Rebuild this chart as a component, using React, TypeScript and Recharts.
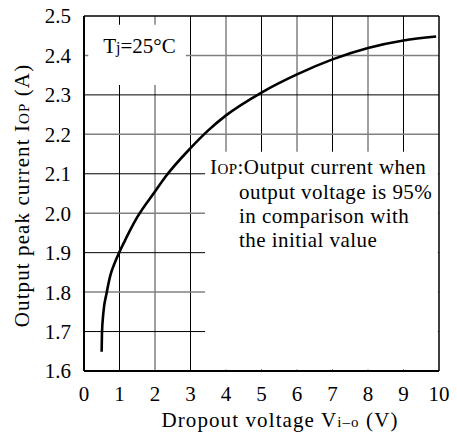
import { LineChart, Line, XAxis, YAxis, ReferenceLine, ReferenceArea } from "recharts";

const FONT = "'Liberation Serif', 'Times New Roman', serif";

const X_TICKS = [0, 1, 2, 3, 4, 5, 6, 7, 8, 9, 10];
const Y_TICKS = [1.6, 1.7, 1.8, 1.9, 2.0, 2.1, 2.2, 2.3, 2.4, 2.5];

// curve
const VOLTAGE = [0.497, 0.506, 0.544, 0.638, 0.75, 0.87, 1.0, 1.15, 1.3, 1.5, 2.0, 2.3, 3.0, 3.5, 4, 5, 6, 7, 8, 9, 9.92];
const CURRENT = [1.649, 1.695, 1.746, 1.798, 1.845, 1.875, 1.902, 1.93, 1.957, 1.99, 2.055, 2.093, 2.165, 2.21, 2.248, 2.306, 2.352, 2.39, 2.419, 2.438, 2.448];

const data = VOLTAGE.map((v, i) => ({ v, i: CURRENT[i] }));

const GRID_X = X_TICKS.slice(1, -1);
const GRID_Y = Y_TICKS.slice(1, -1);

// odd tenths / odd volts black, even ones grey
const gridColor = (n: number) => (Math.round(n) % 2 === 1 ? "#000" : "#808080");
const gridWidth = (n: number) => (Math.round(n) % 2 === 1 ? 1 : 1.5);

function XTitle(props: any) {
  const vb = props.viewBox;
  return (
    <text x={vb.x + 196} y={vb.y + 56} textAnchor="middle" fontSize={21} fontFamily={FONT} style={{ fontFamily: FONT }} letterSpacing={1.1} fill="#000">
      Dropout voltage V<tspan fontSize={15}>i–o</tspan> (V)
    </text>
  );
}

function YTitle(props: any) {
  const vb = props.viewBox;
  const x = vb.x + 5;
  const y = vb.y + vb.height / 2 + 2;
  return (
    <text x={x} y={y} transform={`rotate(-90, ${x}, ${y})`} textAnchor="middle" fontSize={21} fontFamily={FONT} style={{ fontFamily: FONT }} letterSpacing={1.1} fill="#000">
      Output peak current I<tspan fontSize={15}>OP</tspan> (A)
    </text>
  );
}

function TjNote(props: any) {
  const vb = props.viewBox;
  return (
    <text x={vb.x + 15} y={vb.y + 28} fontSize={21} fontFamily={FONT} style={{ fontFamily: FONT }} fill="#000">
      T<tspan fontSize={16}>j</tspan>=25°C
    </text>
  );
}

function IopNote(props: any) {
  const vb = props.viewBox;
  const s = { fontSize: 21, fontFamily: FONT, style: { fontFamily: FONT }, fill: "#000", letterSpacing: 0.45 } as any;
  return (
    <g>
      <text x={vb.x + 5} y={vb.y + 22} {...s}>
        I<tspan fontSize={15}>OP</tspan>:Output current when
      </text>
      <text x={vb.x + 34} y={vb.y + 47} {...s}>output voltage is 95%</text>
      <text x={vb.x + 34} y={vb.y + 71} {...s}>in comparison with</text>
      <text x={vb.x + 34} y={vb.y + 95} {...s}>the initial value</text>
    </g>
  );
}

export default function App() {
  return (
    <div style={{ position: "absolute", left: 0, top: 0, width: 457, height: 435, background: "#fff", fontFamily: FONT }}>
      <LineChart width={457} height={435} data={data} margin={{ top: 16, right: 18, bottom: 0, left: 24 }} style={{ fontFamily: FONT }}>
        <XAxis
          dataKey="v"
          type="number"
          domain={[0, 10]}
          ticks={X_TICKS}
          interval={0}
          height={64}
          tickLine={false}
          axisLine={false}
          tickMargin={9}
          tick={{ fontSize: 21, fill: "#000", fontFamily: FONT }}
          label={{ content: XTitle } as any}
        />
        <YAxis
          type="number"
          domain={[1.6, 2.5]}
          ticks={Y_TICKS}
          interval={0}
          width={60}
          tickLine={false}
          axisLine={false}
          tickMargin={7}
          tickFormatter={(v: number) => v.toFixed(1)}
          tick={{ fontSize: 21, fill: "#000", fontFamily: FONT }}
          label={{ content: YTitle } as any}
        />
        {GRID_X.map((x) => (
          <ReferenceLine key={"gx" + x} x={x} stroke={gridColor(x)} strokeWidth={gridWidth(x)} zIndex={50} />
        ))}
        {GRID_Y.map((y) => (
          <ReferenceLine key={"gy" + y} y={y} stroke={gridColor(y * 10)} strokeWidth={gridWidth(y * 10)} zIndex={50} />
        ))}
        <ReferenceArea x1={0.12} x2={2.87} y1={2.325} y2={2.478} fill="#fff" fillOpacity={1} stroke="none" zIndex={60} label={TjNote as any} />
        <ReferenceArea x1={3.41} x2={9.97} y1={1.604} y2={2.156} fill="#fff" fillOpacity={1} stroke="none" zIndex={60} label={IopNote as any} />
        <ReferenceLine x={0} stroke="#000" strokeWidth={2} zIndex={500} />
        <ReferenceLine x={10} stroke="#000" strokeWidth={1.5} zIndex={500} />
        <ReferenceLine y={1.6} stroke="#000" strokeWidth={2} zIndex={500} />
        <ReferenceLine y={2.5} stroke="#000" strokeWidth={1.5} zIndex={500} />
        <Line dataKey="i" type="monotone" stroke="#000" strokeWidth={2.6} dot={false} isAnimationActive={false} />
      </LineChart>
    </div>
  );
}
